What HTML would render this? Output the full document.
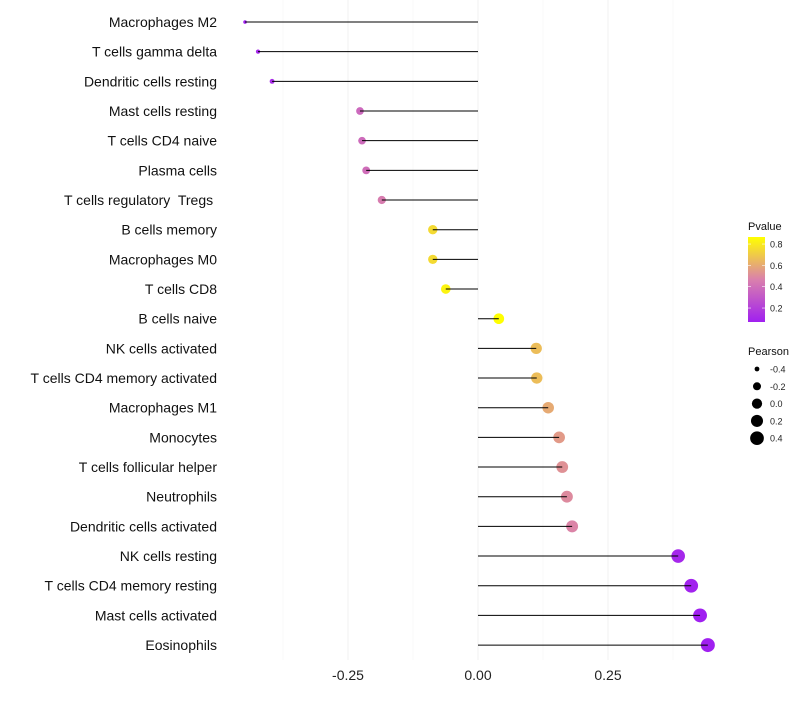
<!DOCTYPE html>
<html><head><meta charset="utf-8"><style>
body{margin:0;background:#fff;font-family:"Liberation Sans",sans-serif}
svg text{font-family:"Liberation Sans",sans-serif;white-space:pre}
</style></head><body>
<svg id="c" width="800" height="700"></svg>
<script>
const categories=["Macrophages M2","T cells gamma delta","Dendritic cells resting","Mast cells resting","T cells CD4 naive","Plasma cells","T cells regulatory  Tregs ","B cells memory","Macrophages M0","T cells CD8","B cells naive","NK cells activated","T cells CD4 memory activated","Macrophages M1","Monocytes","T cells follicular helper","Neutrophils","Dendritic cells activated","NK cells resting","T cells CD4 memory resting","Mast cells activated","Eosinophils"];
const pearson=[-0.448,-0.423,-0.396,-0.227,-0.223,-0.215,-0.185,-0.087,-0.087,-0.062,0.040,0.112,0.113,0.135,0.156,0.162,0.171,0.181,0.385,0.410,0.427,0.442];
const pvalue=[0.07,0.10,0.12,0.37,0.38,0.39,0.45,0.75,0.75,0.83,0.87,0.66,0.66,0.60,0.55,0.52,0.50,0.48,0.10,0.08,0.07,0.07];
const xTicks=[-0.25,0,0.25];
const xTickLabels=["-0.25","0.00","0.25"];
const xMinor=[-0.375,-0.125,0.125,0.375];
const legendP=[0.8,0.6,0.4,0.2];
const legendR=[-0.4,-0.2,0.0,0.2,0.4];

const NS="http://www.w3.org/2000/svg",svg=document.getElementById('c');
const X=v=>478+v*520, Y=i=>22+i*29.67;
const R=v=>Math.sqrt(Math.max(1,26.3+51.4*v));
const pMin=0.069,pMax=0.866;
function lerp(a,b,t){return a.map((x,k)=>Math.round(x+(b[k]-x)*t));}
function col(p){let t=Math.max(0,Math.min(1,(p-pMin)/(pMax-pMin)));
 const s=[[160,32,240],[218,128,172],[255,255,0]];
 const c=t<0.5?lerp(s[0],s[1],t*2):lerp(s[1],s[2],(t-0.5)*2);return `rgb(${c})`;}
function el(t,a,p){const e=document.createElementNS(NS,t);for(const k in a)e.setAttribute(k,a[k]);(p||svg).appendChild(e);return e;}
xMinor.forEach(v=>{const l=el('line',{x1:X(v),x2:X(v),y1:0,y2:660,stroke:'#f6f6f6','stroke-width':0.6});

});
xTicks.forEach((v,i)=>{const l=el('line',{x1:X(v),x2:X(v),y1:0,y2:660,stroke:'#f0f0f0','stroke-width':1});


const t=el('text',{x:X(v),y:680,'text-anchor':'middle','font-size':14,fill:'#222'});t.textContent=xTickLabels[i];

});
categories.forEach((c,i)=>{const y=Y(i);
 const t=el('text',{x:217,y:y+5,'text-anchor':'end','font-size':14,fill:'#111'});t.textContent=c;
 
 
 const d=el('circle',{cx:X(pearson[i]),cy:y,r:R(pearson[i]),fill:col(pvalue[i])});
 
 
 const l=el('line',{x1:X(0),x2:X(pearson[i]),y1:y,y2:y,stroke:'#000','stroke-width':1});
 
 
});
const g=el('g',{});
let tt=el('text',{x:748,y:230,'font-size':11,fill:'#111'},g);tt.textContent='Pvalue';
const defs=el('defs',{});const lg=el('linearGradient',{id:'pg',x1:0,y1:1,x2:0,y2:0},defs);
for(let k=0;k<=10;k++){el('stop',{offset:k/10,'stop-color':col(pMin+(pMax-pMin)*k/10)},lg);}
el('rect',{x:748,y:237,width:17,height:85,fill:'url(#pg)'},g);
legendP.forEach(p=>{const y=237+(pMax-p)/(pMax-pMin)*85;
 el('line',{x1:748,x2:751,y1:y,y2:y,stroke:'#fff','stroke-width':0.6},g);el('line',{x1:762,x2:765,y1:y,y2:y,stroke:'#fff','stroke-width':0.6},g);
 const t=el('text',{x:770,y:y+3.5,'font-size':9,fill:'#222'},g);t.textContent=p.toFixed(1);});
const g2=el('g',{});
tt=el('text',{x:748,y:355,'font-size':11,fill:'#111'},g2);tt.textContent='Pearson';
legendR.forEach((v,i)=>{const y=369+i*17.3;el('circle',{cx:757,cy:y,r:R(v),fill:'#000'},g2);
 const t=el('text',{x:770,y:y+3.5,'font-size':9,fill:'#222'},g2);t.textContent=v.toFixed(1);});
</script>
</body></html>
